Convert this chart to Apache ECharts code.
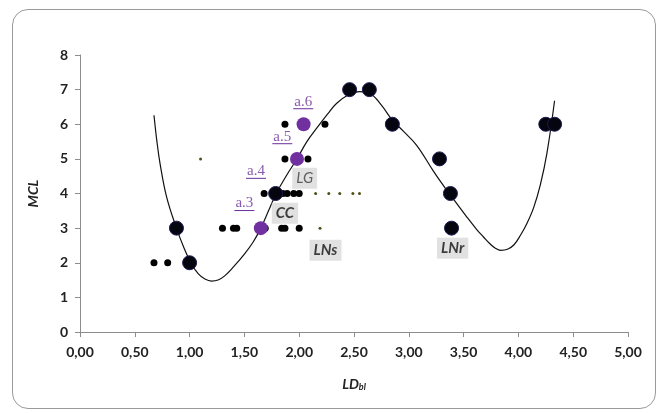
<!DOCTYPE html>
<html><head><meta charset="utf-8">
<script src="https://cdn.jsdelivr.net/npm/echarts@6/dist/echarts.min.js"></script>
<style>
html,body{margin:0;padding:0;background:#fff;}
#frame{position:absolute;left:12px;top:9px;width:644px;height:400px;border:1px solid #9a9a9a;border-radius:16px;box-sizing:border-box;}
#c{position:absolute;left:0;top:0;width:664px;height:413px;}
</style></head>
<body>
<div id="frame"></div>
<div id="c"></div>
<script>
// ---- data ----
const xTickLabels = ['0,00','0,50','1,00','1,50','2,00','2,50','3,00','3,50','4,00','4,50','5,00'];
const yTickLabels = ['0','1','2','3','4','5','6','7','8'];

const fitCurve = [[0.675,6.26],[0.70,5.55],[0.73,4.87],[0.79,3.9],[0.88,3.0],[0.95,2.42],[1.02,1.95],[1.08,1.68],[1.14,1.53],[1.2,1.47],[1.26,1.5],[1.32,1.62],[1.4,1.88],[1.5,2.25],[1.58,2.6],[1.65,3.0],[1.72,3.5],[1.79,4.0],[1.88,4.5],[1.98,5.0],[2.07,5.5],[2.17,5.93],[2.26,6.3],[2.34,6.6],[2.45,6.85],[2.55,6.94],[2.65,6.88],[2.75,6.55],[2.85,6.12],[2.95,5.8],[3.07,5.4],[3.22,4.67],[3.3,4.3],[3.38,3.95],[3.53,3.32],[3.62,2.96],[3.68,2.75],[3.74,2.55],[3.79,2.42],[3.84,2.36],[3.9,2.39],[3.96,2.52],[4.02,2.8],[4.08,3.15],[4.14,3.6],[4.2,4.25],[4.26,5.16],[4.33,6.68]];

const smallDots = [[0.675,2],[0.80,2],[1.30,3],[1.40,3],[1.43,3],[1.69,3],[1.84,3],[1.87,3],[2.00,3],[1.68,4],[1.85,4],[1.89,4],[1.95,4],[2.00,4],[1.87,5],[2.08,5],[1.87,6],[2.235,6]];
const tinyDots = [[1.10,5],[2.19,3],[2.15,4],[2.27,4],[2.37,4],[2.49,4],[2.55,4]];
const bigDots = [[0.88,3],[1.0,2],[1.785,4],[2.46,7],[2.64,7],[2.85,6],[3.28,5],[3.38,4],[3.39,3],[4.25,6],[4.33,6]];
const purpleDots = [[1.65,3],[1.98,5],[2.04,6]];

const aLabels = [['a.3',1.50,3.71],['a.4',1.606,4.64],['a.5',1.846,5.64],['a.6',2.037,6.65]];
const boxLabels = [['LG',2.05,4.44],['CC',1.87,3.43],['LNs',2.24,2.36],['LNr',3.40,2.42]];

const chart = echarts.init(document.getElementById('c'));
const FONT = 'Lato';
const option = {
  animation:false,
  grid:{left:80,right:36,top:55,bottom:81},
  xAxis:{type:'value',min:0,max:5,interval:0.5,
    name:'{m|LD}{s|bl}',nameLocation:'middle',nameGap:45,
    nameTextStyle:{rich:{m:{fontFamily:FONT,fontSize:14,fontWeight:'bold',fontStyle:'italic',color:'#222'},
                          s:{fontFamily:FONT,fontSize:9,fontWeight:'bold',fontStyle:'italic',color:'#222',verticalAlign:'bottom',padding:[6,0,0,0]}}},
    splitLine:{show:false},
    axisLine:{lineStyle:{color:'#8c8c8c'}},
    axisTick:{inside:false,length:5,lineStyle:{color:'#8c8c8c'}},
    axisLabel:{margin:13,fontFamily:FONT,fontSize:14,fontWeight:'bold',color:'#222',formatter:(v)=>xTickLabels[Math.round(v/0.5)]}
  },
  yAxis:{type:'value',min:0,max:8,interval:1,
    name:'MCL',nameLocation:'middle',nameGap:40,nameRotate:90,
    nameTextStyle:{fontFamily:FONT,fontSize:14,fontWeight:'bold',fontStyle:'italic',color:'#222'},
    splitLine:{show:false},
    axisLine:{show:true,lineStyle:{color:'#8c8c8c'}},
    axisTick:{show:true,length:5,lineStyle:{color:'#8c8c8c'}},
    axisLabel:{margin:12,fontFamily:FONT,fontSize:14,fontWeight:'bold',color:'#222',formatter:(v)=>yTickLabels[v]}
  },
  series:[
    {type:'line',data:fitCurve,smooth:0.4,showSymbol:false,lineStyle:{color:'#111',width:1.2},z:3},
    {type:'scatter',data:tinyDots,symbolSize:3,itemStyle:{color:'#4f4f1a',opacity:1},z:4},
    {type:'scatter',data:smallDots,symbolSize:7,itemStyle:{color:'#000',opacity:1},z:4},
    {type:'scatter',data:purpleDots,symbolSize:14,itemStyle:{color:'#7030a0',opacity:1},z:5},
    {type:'scatter',data:bigDots,symbolSize:14,itemStyle:{color:'#05050f',borderColor:'#1a1a50',borderWidth:1,opacity:1},z:6},
    {type:'scatter',data:aLabels.map(a=>({value:[a[1],a[2]],name:a[0]})),symbolSize:0,z:7,
      label:{show:true,position:'inside',formatter:p=>p.name,fontFamily:'Liberation Serif',fontSize:15,color:'#6a2f9a'}},
    {type:'scatter',data:boxLabels.map(a=>({value:[a[1],a[2]],name:a[0]})),symbolSize:0,z:8,
      label:{show:true,position:'inside',formatter:p=>p.name==='LG'?'{g|LG}':'{b|'+p.name+'}',
        backgroundColor:'#d9d9d9',padding:[3,4,3,4],
        rich:{g:{fontFamily:FONT,fontSize:15,fontStyle:'italic',color:'#404040'},
              b:{fontFamily:FONT,fontSize:15,fontStyle:'italic',fontWeight:'bold',color:'#111'}}}}
  ]
};
chart.setOption(option);
// underline the a.* labels, positioned from data coordinates
const underlines = aLabels.map(a=>{
  const p = chart.convertToPixel({gridIndex:0},[a[1],a[2]]);
  return {type:'line',shape:{x1:p[0]-10,y1:p[1]+7,x2:p[0]+10,y2:p[1]+7},style:{stroke:'#6a2f9a',lineWidth:1},z:10};
});
chart.setOption({graphic:underlines});
</script>
</body></html>
